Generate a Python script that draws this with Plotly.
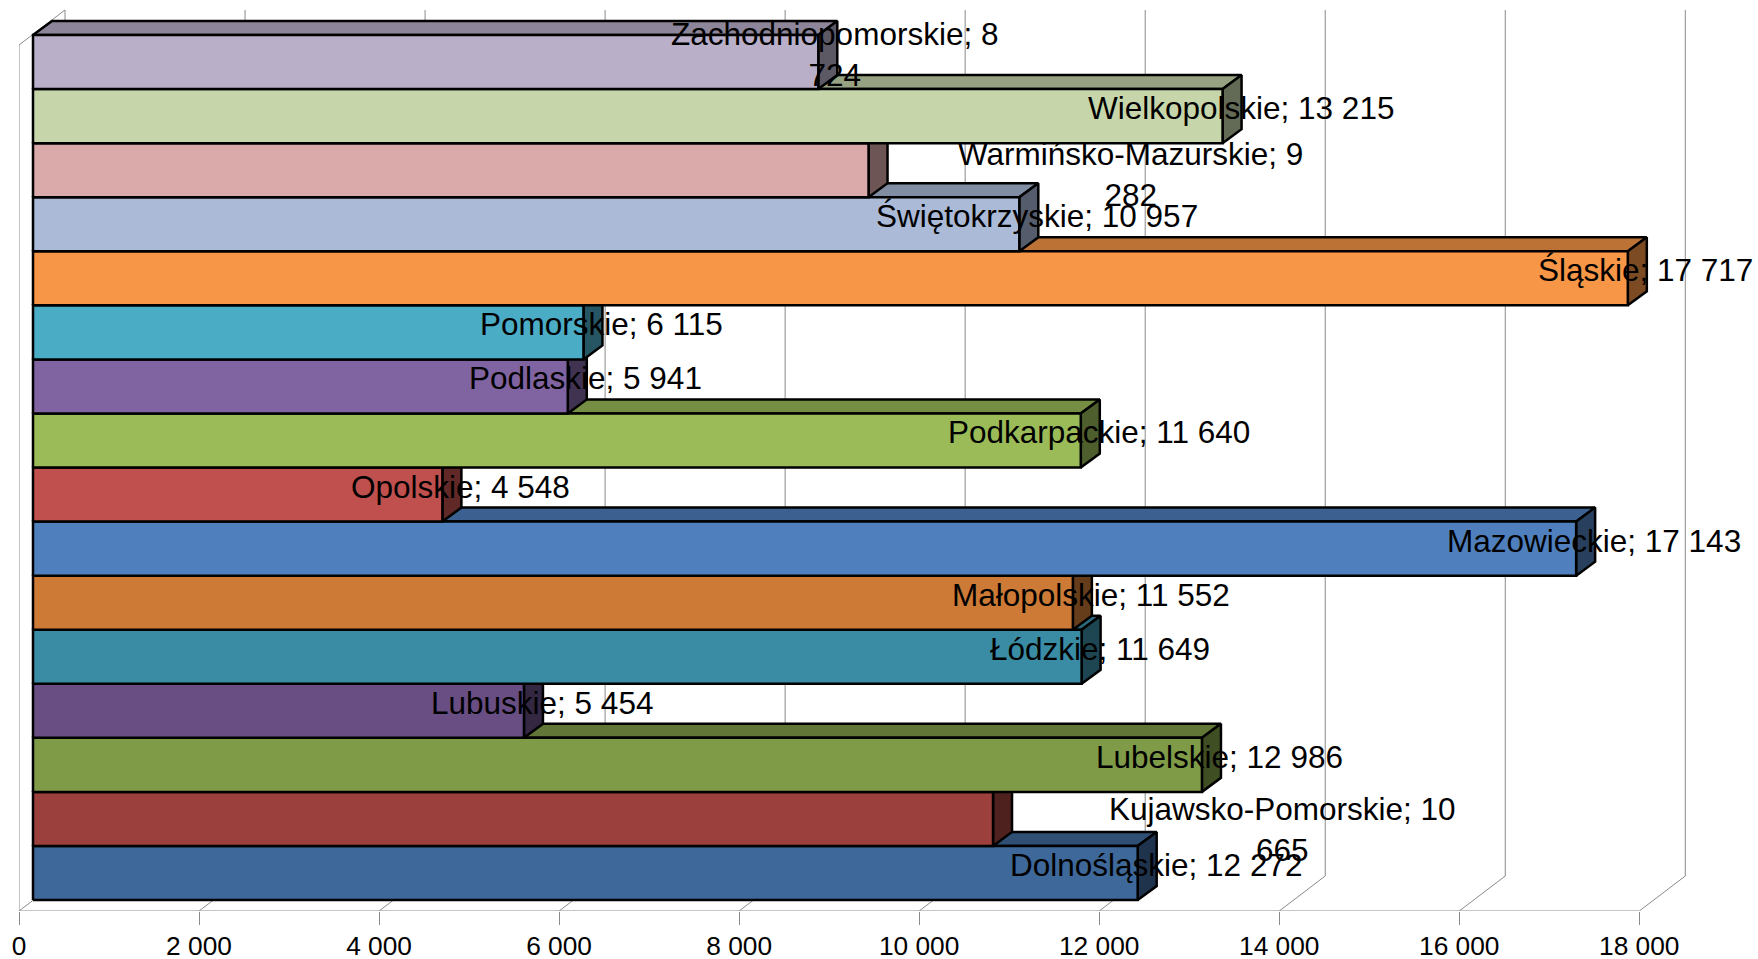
import plotly.graph_objects as go

# --- data (top to bottom as drawn in the chart) ---
regions = ["Zachodniopomorskie", "Wielkopolskie", "Warmińsko-Mazurskie", "Świętokrzyskie",
           "Śląskie", "Pomorskie", "Podlaskie", "Podkarpackie", "Opolskie", "Mazowieckie",
           "Małopolskie", "Łódzkie", "Lubuskie", "Lubelskie", "Kujawsko-Pomorskie", "Dolnośląskie"]
values = [8724, 13215, 9282, 10957, 17717, 6115, 5941, 11640, 4548, 17143,
          11552, 11649, 5454, 12986, 10665, 12272]
colors = ["#B9AFC9", "#C6D5AA", "#D9AAA9", "#AABAD7", "#F79646", "#4BACC6", "#8064A2", "#9BBB59",
          "#C0504D", "#4F80BD", "#CC7A35", "#3A8CA4", "#694E84", "#7F9B48", "#9B403D", "#3E6899"]
tick_vals = [0, 2000, 4000, 6000, 8000, 10000, 12000, 14000, 16000, 18000]
tick_text = ["0", "2 000", "4 000", "6 000", "8 000", "10 000", "12 000", "14 000", "16 000", "18 000"]

# --- layout constants ---
W, H = 1758, 959
LEFT, FLOOR = 19.3, 911
PX_X = 180 / 2000          # px per value unit
PX_BAND = 54.06            # px per category band
dx = lambda px: px / PX_X
dy = lambda px: px / PX_BAND
FRONT = (dx(14), dy(11))
BACK = (dx(33), dy(25))
WALL = (dx(46), dy(35))
WALL_TOP = 866 / PX_BAND   # height of the front wall edge above the floor
GRID = "#8A8A8A"
# label nudges in px (x, y up) for the labels Excel moved when wrapping them
shifts = {"Warmińsko-Mazurskie": (243, -12), "Kujawsko-Pomorskie": (270, -19), "Zachodniopomorskie": (-3, 0)}
wrapped = {"Zachodniopomorskie", "Warmińsko-Mazurskie", "Kujawsko-Pomorskie"}


def shade(hex_color, f):
    r, g, b = (int(hex_color[i:i + 2], 16) for i in (1, 3, 5))
    return f"rgb({r * f:.0f},{g * f:.0f},{b * f:.0f})"


fig = go.Figure()

# walls, floor edge and gridlines
gx, gy = [], []
for t in tick_vals:
    gx += [t, t + WALL[0], t + WALL[0], None]
    gy += [0, WALL[1], WALL_TOP + WALL[1], None]
gx += [0, 0, WALL[0], None, tick_vals[0], tick_vals[-1], None]
gy += [0, WALL_TOP, WALL_TOP + WALL[1], None, 0, 0, None]
fig.add_trace(go.Scatter(x=gx, y=gy, mode="lines", line=dict(color=GRID, width=1),
                         hoverinfo="skip", showlegend=False, cliponaxis=False))


def face(xs, ys, color, name):
    fig.add_trace(go.Scatter(x=xs, y=ys, mode="lines", fill="toself", fillcolor=color,
                             line=dict(color="#000000", width=2.5), name=name,
                             showlegend=False, cliponaxis=False, hoverinfo="name"))


n = len(regions)
annotations = []
# painted from the lowest bar up: an upper bar hides the top face of the one below it
for i in range(n - 1, -1, -1):
    band = n - 1 - i
    v = values[i]
    y0, y1 = FRONT[1] + band, FRONT[1] + band + 1
    x0, x1 = FRONT[0], FRONT[0] + v
    ddx, ddy = BACK[0] - FRONT[0], BACK[1] - FRONT[1]
    c = colors[i]
    face([x0, x1, x1 + ddx, x0 + ddx, x0], [y1, y1, y1 + ddy, y1 + ddy, y1], shade(c, 0.76), regions[i])
    face([x1, x1 + ddx, x1 + ddx, x1, x1], [y0, y0 + ddy, y1 + ddy, y1, y0], shade(c, 0.5), regions[i])
    face([x0, x1, x1, x0, x0], [y0, y0, y1, y1, y0], c, regions[i])

for i in range(n):
    band = n - 1 - i
    v = values[i]
    txt = f"{regions[i]}; {v:,}".replace(",", " ")
    if regions[i] in wrapped:
        a, b = txt.rsplit(" ", 1)
        txt = a + "<br>" + b
    sx, sy = shifts.get(regions[i], (-1, 0))
    annotations.append(dict(x=BACK[0] + v, y=FRONT[1] + band + 0.5 + dy(8), text=txt, showarrow=False,
                            xanchor="center", yanchor="middle", align="center",
                            xshift=sx, yshift=sy, font=dict(size=31.5, color="#000000")))

fig.update_layout(
    width=W, height=H, margin=dict(l=LEFT, r=0, t=0, b=H - FLOOR, autoexpand=False),
    paper_bgcolor="#FFFFFF", plot_bgcolor="#FFFFFF",
    font=dict(family="Liberation Sans, Arial, sans-serif", color="#000000"),
    showlegend=False, annotations=annotations,
    xaxis=dict(range=[0, (W - LEFT) / PX_X], tickmode="array", tickvals=tick_vals, ticktext=tick_text,
               ticks="outside", ticklen=13, tickcolor=GRID, tickwidth=1, showgrid=False, zeroline=False,
               showline=False, ticklabelstandoff=-2, tickfont=dict(size=26.3, color="#000000")),
    yaxis=dict(range=[0, FLOOR / PX_BAND], visible=False),
)

fig.write_html("out.html", config={"displayModeBar": False},
               post_script="document.body.style.margin='0';document.documentElement.style.overflow='hidden';")
